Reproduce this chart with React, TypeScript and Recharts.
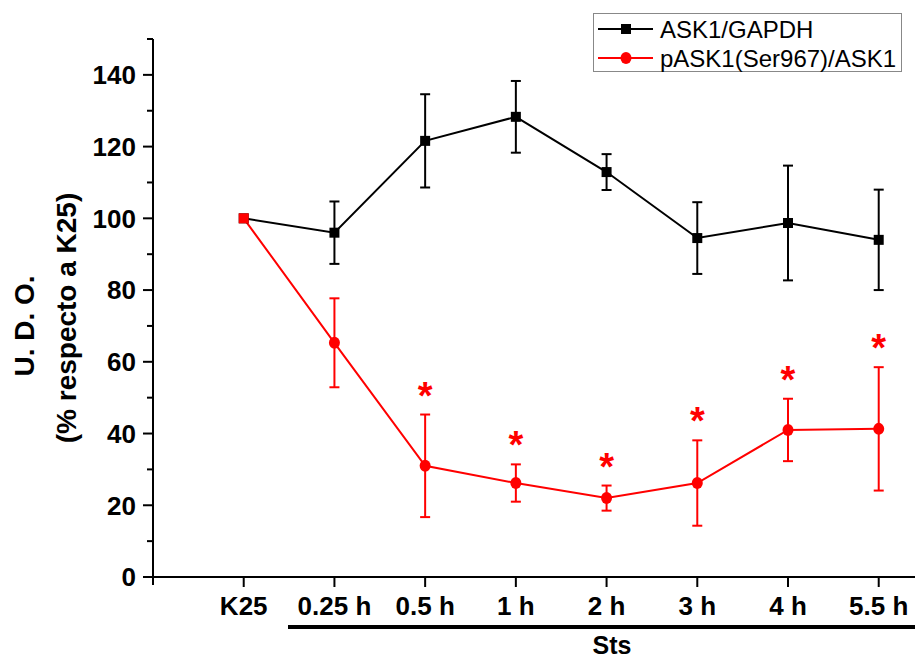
import React from 'react'
import { ComposedChart, Line, XAxis, YAxis, ErrorBar, Legend } from 'recharts'

const categories = ['K25', '0.25 h', '0.5 h', '1 h', '2 h', '3 h', '4 h', '5.5 h']
const ask1Gapdh = [100, 96, 121.6, 128.3, 112.9, 94.5, 98.7, 94]
const ask1GapdhErr = [0, 8.7, 13, 10, 5, 10, 16, 14]
const pAsk1 = [100, 65.3, 31, 26.2, 22, 26.2, 41, 41.3]
const pAsk1Err = [0, 12.4, 14.3, 5.2, 3.5, 11.9, 8.7, 17.2]
const significant = [false, false, true, true, true, true, true, true]
const yTicks = [0, 10, 20, 30, 40, 50, 60, 70, 80, 90, 100, 110, 120, 130, 140, 150]
const xTicks = [0, 1, 2, 3, 4, 5, 6, 7]

const FONT = 'Arial, "Liberation Sans", sans-serif'
const RED = '#ff0000'

const data = categories.map((c, i) => ({
  x: i,
  label: c,
  ask1: ask1Gapdh[i],
  ask1Err: ask1GapdhErr[i],
  p: pAsk1[i],
  pErr: pAsk1Err[i],
  star: significant[i] ? pAsk1[i] + pAsk1Err[i] : null,
}))

const YTick = (props: any) => {
  const { x, y, payload } = props
  const major = payload.value % 20 === 0
  return (
    <g>
      <line x1={x - (major ? 10 : 6)} x2={x} y1={y} y2={y} stroke="#000" strokeWidth={2} />
      {payload.value === 0 && <line x1={x} x2={x} y1={y} y2={y + 8} stroke="#000" strokeWidth={2} />}
      {major && (
        <text x={x - 17} y={y} dy="0.36em" textAnchor="end" fontFamily={FONT} fontWeight="bold" fontSize={26} fill="#000">
          {payload.value}
        </text>
      )}
    </g>
  )
}

const BlackDot = (props: any) => {
  const { cx, cy } = props
  if (cx == null || cy == null) return <g />
  return <rect x={cx - 5} y={cy - 5} width={10} height={10} fill="#000" />
}

const RedDot = (props: any) => {
  const { cx, cy, index } = props
  if (cx == null || cy == null) return <g />
  if (index === 0) return <rect x={cx - 5} y={cy - 5} width={10} height={10} fill={RED} />
  return <ellipse cx={cx} cy={cy} rx={5.5} ry={6} fill={RED} />
}

const StarDot = (props: any) => {
  const { cx, cy, payload } = props
  if (cx == null || cy == null || payload.star == null) return <g />
  return (
    <text x={cx} y={cy - 6} textAnchor="middle" fontFamily={FONT} fontWeight="bold" fontSize={38} fill={RED}>
      *
    </text>
  )
}

const LegendBox = () => (
  <svg width={310} height={60} style={{ display: 'block' }}>
    <rect x={0.5} y={0.5} width={308} height={58} fill="#fff" stroke="#888" strokeWidth={1} />
    <line x1={5} x2={60} y1={16} y2={16} stroke="#000" strokeWidth={2} />
    <rect x={28} y={11} width={10} height={10} fill="#000" />
    <text x={67} y={16} dy="0.36em" fontFamily={FONT} fontSize={24} fill="#000">ASK1/GAPDH</text>
    <line x1={5} x2={60} y1={45} y2={45} stroke={RED} strokeWidth={2} />
    <ellipse cx={33} cy={45} rx={5.5} ry={6} fill={RED} />
    <text x={67} y={45} dy="0.36em" fontFamily={FONT} fontSize={24} fill="#000">pASK1(Ser967)/ASK1</text>
  </svg>
)

export default function App() {
  return (
    <div style={{ position: 'absolute', left: 0, top: 0, width: 915, height: 660, background: '#fff' }}>
      <ComposedChart width={915} height={660} data={data} margin={{ top: 39, right: 0, bottom: 0, left: 0 }}>
        <XAxis
          type="number"
          dataKey="x"
          domain={[-1, 7.4]}
          ticks={xTicks}
          interval={0}
          allowDataOverflow
          height={83}
          tickSize={10}
          tickMargin={10}
          tickFormatter={(v: number) => categories[v]}
          axisLine={{ stroke: '#000', strokeWidth: 2 }}
          tickLine={{ stroke: '#000', strokeWidth: 2 }}
          tick={{ fontFamily: FONT, fontWeight: 'bold', fontSize: 26, fill: '#000' }}
        />
        <YAxis
          type="number"
          domain={[0, 150]}
          ticks={yTicks}
          interval={0}
          width={153}
          tickSize={0}
          tickMargin={0}
          tickLine={false}
          axisLine={{ stroke: '#000', strokeWidth: 2 }}
          tick={<YTick />}
        />
        <Legend
          layout="vertical"
          align="center"
          verticalAlign="middle"
          wrapperStyle={{ left: 593, top: 13, width: 310, height: 60 }}
          content={() => <LegendBox />}
        />
        <Line
          dataKey="ask1"
          stroke="#000"
          strokeWidth={2}
          dot={<BlackDot />}
          activeDot={false}
          isAnimationActive={false}
        >
          <ErrorBar dataKey="ask1Err" width={5} stroke="#000" strokeWidth={2} direction="y" />
        </Line>
        <Line
          dataKey="p"
          stroke={RED}
          strokeWidth={2}
          dot={<RedDot />}
          activeDot={false}
          isAnimationActive={false}
        >
          <ErrorBar dataKey="pErr" width={5} stroke={RED} strokeWidth={2} direction="y" />
        </Line>
        <Line
          dataKey="star"
          stroke="none"
          dot={<StarDot />}
          activeDot={false}
          legendType="none"
          isAnimationActive={false}
        />
      </ComposedChart>
      <svg width={915} height={660} style={{ position: 'absolute', left: 0, top: 0, pointerEvents: 'none' }}>
        <text transform="translate(24,326) rotate(-90)" textAnchor="middle" dy="0.36em" fontFamily={FONT} fontWeight="bold" fontSize={28} fill="#000">
          U. D. O.
        </text>
        <text transform="translate(66,318) rotate(-90)" textAnchor="middle" dy="0.36em" fontFamily={FONT} fontWeight="bold" fontSize={28} fill="#000">
          (% respecto a K25)
        </text>
        <line x1={288} x2={915} y1={627} y2={627} stroke="#000" strokeWidth={4} />
        <text x={612} y={645} dy="0.36em" textAnchor="middle" fontFamily={FONT} fontWeight="bold" fontSize={25} fill="#000">
          Sts
        </text>
      </svg>
    </div>
  )
}
